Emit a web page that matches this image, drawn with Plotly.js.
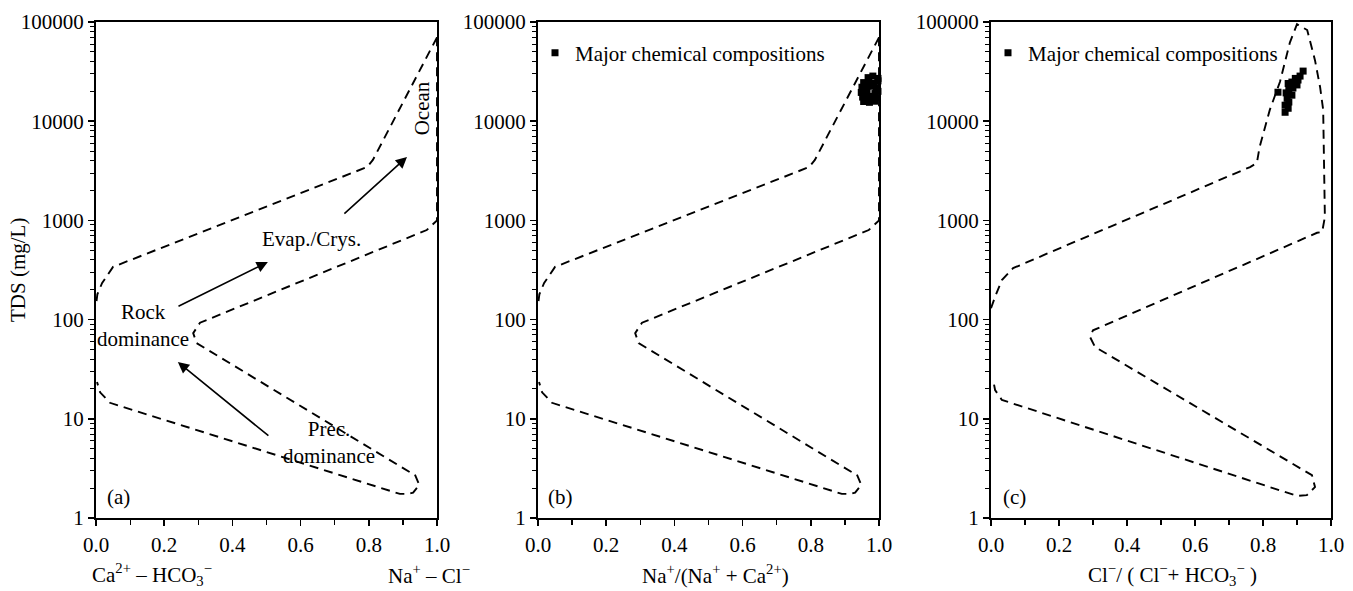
<!DOCTYPE html>
<html>
<head>
<meta charset="utf-8">
<script src="https://cdn.plot.ly/plotly-3.0.1.min.js"></script>
<style>html,body{margin:0;padding:0;background:#fff;}#chart{width:1353px;height:591px;}</style>
</head>
<body>
<div id="chart"></div>
<script>
// ---- Gibbs boundary (panels a & b) ----
const upperX_ab = [1.0, 0.812, 0.795, 0.05, 0.018, 0.004, 0.0];
const upperY_ab = [70000, 4070, 3450, 340, 234, 180, 140];
const innerX_ab = [1.0, 1.0, 0.97, 0.343, 0.305, 0.285, 0.295, 0.92, 0.935, 0.948, 0.93, 0.916, 0.891, 0.041, 0.012, 0.003];
const innerY_ab = [70000, 1000, 800, 107, 93, 73, 58, 2.9, 2.75, 2.15, 1.8, 1.75, 1.75, 14.5, 18.5, 23.5];

// ---- Gibbs boundary (panel c) ----
const boundX_c = [0.0, 0.012, 0.032, 0.065, 0.762, 0.782, 0.79, 0.82, 0.85, 0.879, 0.9, 0.93, 0.953, 0.968, 0.977, 0.982, 0.974, 0.959, 0.30, 0.291, 0.306, 0.944, 0.953, 0.929, 0.90, 0.032, 0.012, 0.006];
const boundY_c = [130, 170, 250, 330, 3450, 3800, 5500, 13000, 25000, 62000, 95000, 83000, 41000, 22000, 13000, 1080, 765, 750, 78, 67, 53, 2.7, 2.05, 1.7, 1.67, 15.5, 19.5, 25];

// ---- Sample data ----
const ratioNa = [0.968, 0.982, 0.997, 0.955, 0.970, 0.985, 0.997, 0.950, 0.962, 0.978, 0.992, 0.948, 0.965, 0.988, 0.997, 0.952, 0.968, 0.982, 0.995, 0.955, 0.972, 0.988];
const tdsNa   = [27500, 28500, 27000, 24500, 25000, 24000, 25500, 22000, 21500, 22500, 21800, 19500, 19800, 19000, 20000, 17500, 17000, 17800, 17300, 15800, 15500, 15900];
const ratioCl = [0.918, 0.909, 0.903, 0.885, 0.874, 0.900, 0.888, 0.876, 0.844, 0.868, 0.885, 0.871, 0.876, 0.865, 0.874, 0.865, 0.895, 0.880];
const tdsCl   = [32000, 28500, 26000, 24800, 24000, 23200, 21600, 20500, 19600, 19300, 18300, 17000, 15600, 14500, 13500, 12300, 27000, 22500];

// ---- Tick labels ----
const yTickVals = [1, 10, 100, 1000, 10000, 100000];
const yTickText = ['1', '10', '100', '1000', '10000', '100000'];
const xTickVals = [0, 0.2, 0.4, 0.6, 0.8, 1.0];
const xTickText = ['0.0', '0.2', '0.4', '0.6', '0.8', '1.0'];

const FONT = '"Liberation Serif", "Times New Roman", serif';
const FS = 21;
const W = 1353, H = 591;
const dashLine = {color: '#000', width: 1.9, dash: '9px,6px'};

const traces = [
  {x: upperX_ab, y: upperY_ab, xaxis: 'x', yaxis: 'y', mode: 'lines', line: dashLine, showlegend: false, hoverinfo: 'skip'},
  {x: innerX_ab, y: innerY_ab, xaxis: 'x', yaxis: 'y', mode: 'lines', line: dashLine, showlegend: false, hoverinfo: 'skip'},
  {x: upperX_ab, y: upperY_ab, xaxis: 'x2', yaxis: 'y2', mode: 'lines', line: dashLine, showlegend: false, hoverinfo: 'skip'},
  {x: innerX_ab, y: innerY_ab, xaxis: 'x2', yaxis: 'y2', mode: 'lines', line: dashLine, showlegend: false, hoverinfo: 'skip'},
  {x: boundX_c, y: boundY_c, xaxis: 'x3', yaxis: 'y3', mode: 'lines', line: dashLine, showlegend: false, hoverinfo: 'skip'},
  {x: ratioNa, y: tdsNa, xaxis: 'x2', yaxis: 'y2', mode: 'markers', name: 'Major chemical compositions',
   marker: {symbol: 'square', size: 7, color: '#000'}, legend: 'legend2', cliponaxis: false},
  {x: ratioCl, y: tdsCl, xaxis: 'x3', yaxis: 'y3', mode: 'markers', name: 'Major chemical compositions',
   marker: {symbol: 'square', size: 7, color: '#000'}, legend: 'legend3', cliponaxis: false}
];

function xAxis(d0, d1, anchor) {
  return {
    domain: [d0 / W, d1 / W], anchor: anchor, range: [0, 1],
    tickvals: xTickVals, ticktext: xTickText,
    ticks: 'outside', ticklen: 6, tickwidth: 1.5, tickcolor: '#000',
    ticklabelstandoff: 1,
    minor: {ticks: 'outside', ticklen: 5, tickwidth: 1.2, tickcolor: '#000', dtick: 0.1, showgrid: false},
    showline: true, linewidth: 2, linecolor: '#000', mirror: true,
    showgrid: false, zeroline: false, automargin: false, fixedrange: true,
    tickfont: {family: FONT, size: FS, color: '#000'}
  };
}
function yAxis(anchor) {
  return {
    domain: [1 - 518 / H, 1 - 22 / H], anchor: anchor, type: 'log', range: [0, 5],
    tickvals: yTickVals, ticktext: yTickText,
    ticks: 'outside', ticklen: 6, tickwidth: 1.5, tickcolor: '#000',
    minor: {ticks: 'outside', ticklen: 4, tickwidth: 1, tickcolor: '#000', dtick: 'D1', showgrid: false},
    showline: true, linewidth: 2, linecolor: '#000', mirror: true,
    showgrid: false, zeroline: false, automargin: false, fixedrange: true,
    tickfont: {family: FONT, size: FS, color: '#000'}
  };
}

const tf = {family: FONT, size: FS, color: '#000'};
function ann(text, x, y, xref, yref, extra) {
  return Object.assign({text: text, x: x, y: y, xref: xref, yref: yref, showarrow: false, font: tf,
                        xanchor: 'center', yanchor: 'middle'}, extra || {});
}
function arrow(x, y, ax, ay) {
  return {text: '', x: x, y: Math.log10(y), ax: ax, ay: Math.log10(ay), xref: 'x', yref: 'y', axref: 'x', ayref: 'y',
          showarrow: true, arrowhead: 2, arrowsize: 1.4, arrowwidth: 1.6, arrowcolor: '#000'};
}

const TITLE_Y = 1 - 574 / H;
const layout = {
  width: W, height: H,
  margin: {l: 0, r: 0, t: 0, b: 0},
  paper_bgcolor: '#fff', plot_bgcolor: '#fff',
  font: {family: FONT, size: FS, color: '#000'},
  xaxis: xAxis(96, 437, 'y'),
  yaxis: yAxis('x'),
  xaxis2: xAxis(538, 879, 'y2'),
  yaxis2: yAxis('x2'),
  xaxis3: xAxis(991, 1331, 'y3'),
  yaxis3: yAxis('x3'),
  legend2: {x: 535 / W, y: 1 - 53 / H, xanchor: 'left', yanchor: 'middle', bgcolor: 'rgba(0,0,0,0)',
            font: {family: FONT, size: FS, color: '#000'}, itemwidth: 30, tracegroupgap: 0},
  legend3: {x: 988 / W, y: 1 - 53 / H, xanchor: 'left', yanchor: 'middle', bgcolor: 'rgba(0,0,0,0)',
            font: {family: FONT, size: FS, color: '#000'}, itemwidth: 30, tracegroupgap: 0},
  annotations: [
    ann('TDS (mg/L)', 18 / W, 1 - 270 / H, 'paper', 'paper', {textangle: -90}),
    ann('Ca<sup>2+</sup> – HCO<sub>3</sub><sup>−</sup>', 90 / W, TITLE_Y, 'paper', 'paper', {xanchor: 'left'}),
    ann('Na<sup>+</sup> – Cl<sup>−</sup>', 386 / W, TITLE_Y, 'paper', 'paper', {xanchor: 'left'}),
    ann('Na<sup>+</sup>/(Na<sup>+</sup> + Ca<sup>2+</sup>)', 715 / W, TITLE_Y, 'paper', 'paper'),
    ann('Cl<sup>−</sup>/ ( Cl<sup>−</sup>+ HCO<sub>3</sub><sup>−</sup> )', 1172 / W, TITLE_Y, 'paper', 'paper'),
    ann('Ocean', 0.956, 4.13, 'x', 'y', {textangle: -90}),
    ann('Evap./Crys.', 0.632, 2.81, 'x', 'y'),
    ann('Rock<br>dominance', 0.138, 1.945, 'x', 'y'),
    ann('Prec.<br>dominance', 0.683, 0.761, 'x', 'y'),
    ann('(a)', 0.066, 0.207, 'x', 'y'),
    ann('(b)', 0.066, 0.207, 'x2', 'y2'),
    ann('(c)', 0.07, 0.207, 'x3', 'y3'),
    arrow(0.912, 4360, 0.724, 1135),
    arrow(0.504, 380, 0.2375, 134),
    arrow(0.24, 37.4, 0.51, 6.56)
  ]
};

Plotly.newPlot('chart', traces, layout, {staticPlot: true, displayModeBar: false});
</script>
</body>
</html>
